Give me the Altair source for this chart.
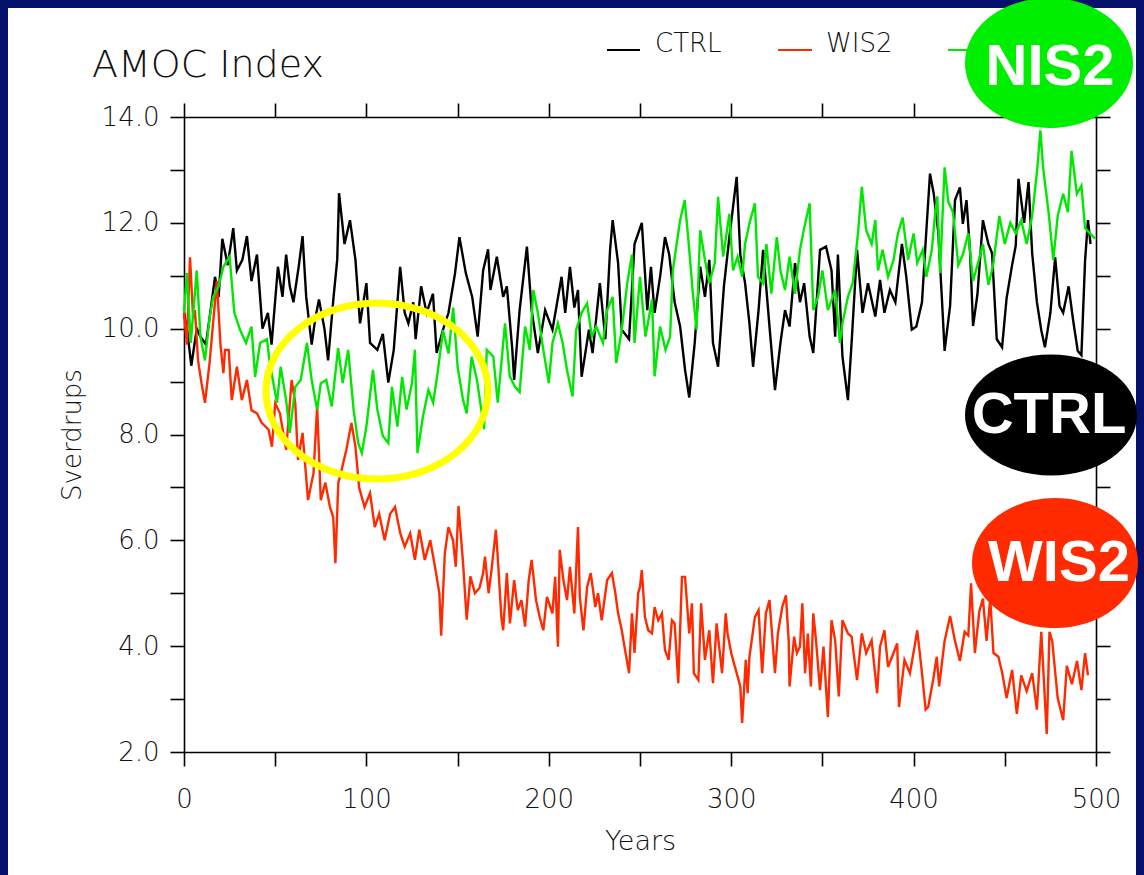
import altair as alt
import pandas as pd

# ---------------- data ----------------
series_names = ["CTRL", "WIS2", "NIS2"]
series_colors = ["#000000", "#ff2a00", "#00e800"]

ctrl_years = [0, 2, 4, 7, 9, 12, 14, 17, 19, 21, 24, 27, 29, 32, 34.5, 37, 40, 43, 46, 48, 51.5, 54, 56, 58, 60, 63, 65, 67, 70, 72, 74, 77, 79, 82, 84, 85, 88, 91, 94, 96.5, 100, 102, 106, 109, 112, 115, 118.5, 121, 123, 125.7, 127, 130, 133, 136.5, 138.5, 142, 145, 148.6, 151, 154.5, 158, 161, 164, 166.7, 168, 171.5, 175, 177, 180, 181, 184, 188, 190.6, 194, 198, 202, 207, 209, 211.6, 214, 216, 218, 222, 224, 228, 231, 233.6, 235, 238, 240, 244, 247, 251, 254, 256, 258, 261, 263.7, 266, 269, 272, 274.7, 277, 280, 283, 285.6, 288, 290, 292.8, 296, 299, 303, 305, 307.6, 310, 312, 315, 317.5, 321, 324, 327, 329.5, 332, 335, 337.7, 340, 343, 345, 348.7, 352, 355, 357, 358.5, 361, 364, 366, 369, 372, 375, 379, 381.6, 384, 387, 390, 393.6, 396, 399, 401.5, 404.6, 407, 409, 411, 413.5, 415.5, 417, 420, 422.7, 425.4, 427, 429, 431, 432.6, 435, 438, 441, 443, 445.6, 448.5, 451, 454, 456, 457.5, 460.6, 463, 465, 467.6, 470, 472, 475, 477.6, 480, 482, 485, 487.5, 490, 492, 494, 495.6, 497]
ctrl_vals = [10.3, 9.9, 9.3, 10.0, 9.85, 9.7, 10.2, 10.98, 10.6, 11.7, 11.2, 11.9, 11.1, 11.3, 11.75, 10.9, 11.4, 10.0, 10.3, 9.7, 11.17, 10.6, 11.4, 10.8, 10.5, 11.2, 11.75, 10.6, 9.7, 10.2, 10.55, 10.0, 9.4, 10.6, 11.3, 12.56, 11.6, 12.05, 11.3, 10.1, 10.86, 9.73, 9.6, 9.9, 8.98, 9.6, 11.17, 10.3, 10.1, 10.5, 9.8, 10.8, 10.3, 10.66, 9.54, 9.98, 10.3, 11.05, 11.73, 11.05, 10.6, 9.85, 11.1, 11.5, 10.73, 11.36, 10.6, 10.8, 9.6, 9.03, 10.35, 11.55, 10.35, 9.54, 10.35, 9.98, 10.98, 10.3, 11.17, 10.4, 10.73, 9.09, 9.98, 9.54, 10.86, 9.8, 11.49, 12.05, 11.24, 9.98, 9.8, 11.6, 12.0, 10.35, 11.17, 10.3, 10.98, 11.73, 11.4, 10.5, 10.04, 9.22, 8.7, 9.73, 11.17, 10.6, 11.3, 9.73, 9.28, 10.8, 11.73, 12.87, 11.4, 10.86, 10.1, 9.28, 10.35, 11.49, 10.04, 8.84, 9.73, 10.35, 10.04, 11.24, 10.5, 10.86, 9.85, 9.54, 11.49, 11.55, 11.1, 9.85, 11.4, 9.47, 8.65, 9.73, 11.49, 10.3, 10.86, 10.23, 10.92, 10.3, 10.73, 10.5, 11.6, 10.98, 9.98, 10.04, 10.5, 11.86, 12.93, 12.56, 11.83, 10.58, 9.58, 10.43, 12.43, 12.67, 11.98, 12.43, 11.43, 10.05, 10.65, 12.05, 11.6, 11.43, 9.8, 9.65, 10.58, 11.2, 11.57, 12.83, 12.0, 12.77, 11.43, 10.5, 9.97, 9.65, 10.3, 11.35, 10.43, 10.3, 10.8, 10.15, 9.58, 9.5, 11.28, 12.05, 11.6]

wis2_years = [0, 1.6, 3.3, 5, 6, 7.7, 9.6, 11.5, 14, 18, 20, 21.6, 22.5, 24.5, 26.2, 29, 31.7, 34.5, 37, 40, 42.6, 46.4, 48.2, 50, 52.6, 56, 59, 61, 62.5, 65, 68, 71, 73, 75, 77.5, 80, 81.8, 83, 84.6, 86, 89, 91.8, 94, 96, 99, 102, 104.6, 107, 110, 113, 115.7, 118.6, 121, 124, 126.6, 129, 132, 135, 137.6, 140, 141, 143, 145, 147.5, 149, 150.5, 153, 155, 157, 159.5, 162, 164, 165, 167, 168.6, 171, 172, 174, 175, 177, 178.7, 181, 183, 185, 187, 189, 190.6, 193, 195, 197, 199, 202, 203.5, 205, 206, 208, 210, 211.6, 214, 216, 217, 219, 221, 223, 225.5, 227, 229, 232, 234.6, 236.5, 238, 240, 241.8, 244, 245.6, 247, 249, 250, 251, 252.7, 254.5, 256.6, 258, 260, 262, 263.7, 265.7, 267.5, 269, 271, 273, 274.7, 277, 278.5, 279.5, 282, 283.5, 285.6, 288, 290, 292, 295, 297, 298, 300, 303, 305, 306, 308, 309, 310, 313, 315, 317, 319, 321, 324, 325.6, 328, 330, 331.5, 332, 334.5, 336, 337.7, 339, 340.5, 342, 343.7, 345, 346.5, 348.7, 350.6, 353, 355, 357, 359, 361, 364, 366, 369, 371.6, 374, 377, 380, 381.6, 384, 386, 389, 391, 392, 395, 398, 400.8, 402, 404.6, 406.6, 408, 410.7, 412.7, 414, 417, 420, 422.7, 425.4, 428, 430, 431.5, 433.6, 436, 438, 440, 442, 443.8, 446.5, 448.6, 451, 454, 456.6, 459, 462, 465, 467.6, 470, 473, 474.5, 476, 479, 482, 484, 486.8, 489.6, 492, 494, 495.6]
wis2_vals = [10.3, 9.7, 11.35, 10.2, 10.35, 9.4, 8.97, 8.6, 9.35, 10.9, 9.7, 9.16, 9.6, 9.6, 8.65, 9.28, 8.65, 9.03, 8.46, 8.4, 8.22, 8.09, 7.77, 8.59, 8.4, 7.71, 9.03, 8.6, 7.52, 8.03, 6.76, 7.27, 8.53, 6.76, 7.09, 6.63, 6.44, 5.57, 7.09, 7.27, 7.71, 8.22, 7.77, 7.0, 6.63, 6.89, 6.25, 6.5, 6.0, 6.5, 6.63, 6.13, 5.88, 6.13, 5.63, 6.2, 5.63, 6.0, 5.5, 5.0, 4.2, 5.76, 6.25, 6.0, 5.5, 6.65, 5.57, 4.5, 5.32, 5.0, 5.1, 5.38, 5.69, 5.0, 5.44, 6.2, 5.69, 4.55, 4.3, 5.38, 4.43, 5.25, 4.68, 4.87, 4.37, 5.25, 5.63, 4.87, 4.55, 4.3, 4.93, 4.62, 5.31, 3.99, 5.82, 5.25, 4.87, 5.5, 4.62, 6.25, 4.93, 4.3, 5.12, 5.38, 4.74, 5.0, 4.49, 5.25, 5.38, 5.0, 4.62, 4.3, 3.93, 3.49, 4.62, 3.87, 5.0, 5.12, 5.44, 4.55, 4.3, 4.24, 4.74, 4.49, 4.62, 3.93, 3.74, 4.49, 4.43, 3.3, 5.31, 5.31, 4.24, 4.81, 3.49, 3.36, 4.81, 3.74, 4.3, 3.3, 4.43, 3.49, 4.62, 4.24, 3.87, 3.49, 3.24, 2.55, 3.74, 3.11, 3.8, 4.55, 4.68, 3.49, 4.62, 4.87, 3.49, 4.24, 4.74, 4.96, 4.11, 3.24, 4.18, 3.87, 3.99, 4.81, 3.49, 4.24, 3.24, 4.62, 4.11, 3.17, 3.99, 2.66, 4.49, 4.11, 3.05, 4.49, 4.24, 4.18, 3.36, 4.24, 3.87, 4.11, 3.11, 3.99, 4.3, 3.61, 3.87, 4.05, 2.85, 3.74, 3.49, 4.05, 4.3, 3.49, 2.8, 2.85, 3.36, 3.8, 3.24, 4.1, 4.57, 4.1, 3.72, 4.27, 4.2, 5.19, 3.87, 4.65, 4.9, 4.1, 4.9, 3.87, 3.8, 3.49, 3.02, 3.55, 2.72, 3.45, 3.15, 3.49, 2.8, 4.27, 2.34, 4.27, 4.1, 3.02, 2.6, 3.63, 3.28, 3.72, 3.17, 3.87, 3.45]

nis2_years = [0, 1.6, 3.7, 7, 9, 11.5, 14, 16, 19, 21.6, 25, 27.6, 30.7, 34, 37, 39, 41.7, 45.5, 47, 51, 53, 56, 58, 61, 64, 67.4, 70, 73, 75, 78, 81, 84.5, 87, 90, 93, 95.5, 97.5, 100, 103.6, 106, 109, 112, 114, 117, 119.6, 122, 125, 126.6, 128, 131, 134, 136.6, 139, 142, 145, 147.6, 150, 153, 155, 157.7, 160.6, 163, 164.5, 166, 169.6, 172, 176, 178.6, 181.5, 184, 187, 189.6, 191.5, 194, 197, 200, 202, 205, 207.6, 210, 213, 215, 218, 221, 223.6, 226, 229.7, 232, 235, 237, 240, 243, 245.6, 247, 250, 253, 256.6, 258, 261, 264, 266.5, 268, 272, 274.5, 276.4, 279, 281, 283, 285.6, 288, 291, 292.8, 295.6, 299, 301, 303.5, 306, 307.6, 310, 313, 314.7, 317.5, 319.3, 322, 325, 327, 329.5, 332, 335, 337.7, 340, 343, 345, 347.6, 350, 353, 357, 359.6, 361, 364, 366.6, 369.5, 371.6, 374, 377, 379, 380.5, 383, 386, 389, 391.4, 394, 397, 400, 402, 405, 407, 410, 411.6, 413, 414.5, 417, 419, 421.6, 424.5, 427, 430, 432.6, 435, 438, 441, 443.6, 447, 450, 453, 456, 459, 462, 465, 467.7, 469.5, 471, 474, 476.6, 479, 482, 484.6, 486.6, 489.5, 492, 494, 496.6, 499.5]
nis2_vals = [10.3, 11.05, 9.73, 11.1, 9.85, 9.4, 10.2, 10.6, 10.8, 11.17, 11.36, 10.3, 9.98, 9.73, 10.04, 9.09, 9.73, 9.8, 9.35, 8.6, 9.28, 8.65, 8.03, 8.9, 9.03, 9.73, 9.03, 8.47, 8.97, 9.03, 8.53, 9.63, 8.97, 9.6, 8.46, 7.84, 7.65, 8.15, 9.22, 8.47, 7.97, 7.84, 8.9, 8.15, 9.09, 8.47, 8.97, 9.6, 7.65, 8.34, 8.84, 8.6, 9.15, 9.97, 9.53, 10.4, 9.28, 8.65, 8.4, 9.47, 9.03, 8.47, 8.1, 9.6, 9.47, 8.6, 10.1, 9.1, 8.9, 8.8, 10.04, 9.6, 10.73, 10.3, 9.6, 8.97, 9.73, 10.1, 9.73, 9.22, 8.72, 9.98, 10.3, 10.48, 9.85, 10.04, 9.73, 10.35, 10.6, 9.35, 9.98, 10.86, 11.4, 9.73, 10.98, 9.85, 10.55, 9.1, 10.04, 9.6, 9.85, 11.1, 12.05, 12.43, 11.73, 10.66, 9.98, 11.86, 11.3, 10.86, 11.24, 12.49, 11.36, 12.17, 11.1, 11.36, 10.98, 11.6, 11.99, 12.37, 10.98, 10.86, 11.6, 10.66, 11.73, 11.1, 10.73, 11.36, 10.66, 11.49, 11.9, 12.37, 10.35, 10.6, 11.1, 10.35, 10.73, 9.73, 10.1, 10.6, 10.86, 11.8, 12.68, 11.86, 11.6, 12.05, 11.1, 11.49, 10.98, 11.3, 11.8, 12.1, 11.3, 11.8, 11.24, 11.49, 10.98, 11.49, 12.1, 12.5, 11.05, 13.05, 12.4, 12.2, 11.2, 11.4, 11.8, 10.9, 11.2, 11.6, 10.83, 11.2, 12.13, 11.6, 12.0, 11.8, 12.05, 11.6, 12.13, 12.98, 13.75, 13.05, 12.2, 11.3, 12.13, 12.55, 12.2, 13.36, 12.55, 12.7, 11.9, 11.8, 11.7]

x_ticks = list(range(0, 501, 50))
y_ticks = list(range(2, 15, 1))

# ---------------- build tables ----------------
rows = []
for name, yrs, vals in [("CTRL", ctrl_years, ctrl_vals), ("WIS2", wis2_years, wis2_vals), ("NIS2", nis2_years, nis2_vals)]:
    for i, (a, b) in enumerate(zip(yrs, vals)):
        rows.append({"year": a, "value": b, "series": name, "idx": i})
df = pd.DataFrame(rows)

FONT = "DejaVu Sans"
BOLD_FONT = "Liberation Sans"
X0, Y0 = 184, 117          # plot origin in page pixels
PX_PER_YEAR = 912 / 500
PX_PER_SV = 635 / 12


def to_year(px):
    return (px - X0) / PX_PER_YEAR


def to_sv(py):
    return 14 - (py - Y0) / PX_PER_SV


xscale = alt.Scale(domain=[0, 500], nice=False, zero=False)
yscale = alt.Scale(domain=[2, 14], nice=False, zero=False)

common_axis = dict(tickSize=14, tickWidth=1.6, tickColor="black", domainColor="black",
                   domainWidth=1.6, grid=False, labelFont=FONT, titleFont=FONT,
                   labelColor="#111111", titleColor="#111111", titleFontWeight=200,
                   labelFontWeight=200)

bottom_axis = alt.Axis(values=x_ticks, labelExpr="datum.value % 100 == 0 ? datum.label : ''",
                       labelFontSize=26, labelPadding=20, labelFlush=False, labelOverlap=False,
                       titleFontSize=27, titlePadding=16, **common_axis)
left_axis = alt.Axis(values=y_ticks, labelExpr="datum.value % 2 == 0 ? format(datum.value, '.1f') : ''",
                     labelFontSize=26, labelPadding=11, labelOverlap=False,
                     titleFontSize=26, titlePadding=16, **common_axis)
top_axis = alt.Axis(orient="top", values=x_ticks, labels=False, title=None, **common_axis)
right_axis = alt.Axis(orient="right", values=y_ticks, labels=False, title=None, **common_axis)


def X(field):
    return alt.X(field, scale=xscale, axis=None)


def Y(field):
    return alt.Y(field, scale=yscale, axis=None)


one = pd.DataFrame({"k": [0]})

# navy slide border (left, top, right)
border = alt.Chart(one).mark_rect(fill=None, filled=False, stroke="#04106b", strokeWidth=16).encode(
    x=alt.value(0 - X0), x2=alt.value(1144 - X0), y=alt.value(0 - Y0), y2=alt.value(920 - Y0))

lines = alt.Chart(df).mark_line(strokeWidth=2.4, interpolate="linear").encode(
    x=alt.X("year:Q", scale=xscale, axis=bottom_axis, title="Years"),
    y=alt.Y("value:Q", scale=yscale, axis=left_axis, title="Sverdrups"),
    color=alt.Color("series:N", scale=alt.Scale(domain=series_names, range=series_colors), legend=None),
    order="idx:Q",
)

frame = alt.Chart(df).mark_point(opacity=0, size=0).encode(
    x=alt.X("year:Q", scale=xscale, axis=top_axis),
    y=alt.Y("value:Q", scale=yscale, axis=right_axis),
)

# manual legend (line segment + label)
leg = pd.DataFrame({
    "series": series_names,
    "x1": [to_year(607), to_year(778), to_year(948)],
    "x2": [to_year(640), to_year(812), to_year(981)],
    "xt": [to_year(655), to_year(826), to_year(996)],
})
leg["y"] = to_sv(50)
leg["yt"] = to_sv(52)
leg_lines = alt.Chart(leg).mark_rule(strokeWidth=2).encode(
    x=X("x1:Q"), x2="x2:Q", y=Y("y:Q"),
    color=alt.Color("series:N", scale=alt.Scale(domain=series_names, range=series_colors), legend=None))
leg_text = alt.Chart(leg).mark_text(align="left", baseline="alphabetic", font=FONT, fontSize=26,
                                    fontWeight=200, color="#111111").encode(
    x=X("xt:Q"), y=Y("yt:Q"), text="series:N")

title = alt.Chart(one).mark_text(text="AMOC Index", align="left", baseline="alphabetic", font=FONT,
                                 fontSize=38, fontWeight=200, color="#111111").encode(
    x=alt.value(92 - X0), y=alt.value(77 - Y0))


def ellipse_path(ry):
    return f"M-1,0A1,{ry} 0 1,0 1,0A1,{ry} 0 1,0 -1,0Z"


def ellipse(cx, cy, w, h, fill=None, stroke=None, sw=0):
    d = pd.DataFrame({"x": [to_year(cx)], "y": [to_sv(cy)]})
    kw = dict(shape=ellipse_path(round(h / w, 3)), size=w * w, opacity=1)
    if fill:
        kw.update(filled=True, fill=fill, fillOpacity=1, strokeWidth=0)
    else:
        kw.update(filled=False, stroke=stroke, strokeWidth=sw, strokeOpacity=1)
    return alt.Chart(d).mark_point(**kw).encode(x=X("x:Q"), y=Y("y:Q"))


def label(cx, cy, txt, size=60):
    d = pd.DataFrame({"x": [to_year(cx)], "y": [to_sv(cy)], "t": [txt]})
    return alt.Chart(d).mark_text(font=BOLD_FONT, fontWeight="bold", fontSize=size, color="white",
                                  align="center", baseline="middle").encode(
        x=X("x:Q"), y=Y("y:Q"), text="t:N")


yellow = ellipse(377, 391, 222, 176, stroke="#ffff00", sw=7)
e_nis = ellipse(1049, 63, 168, 130, fill="#00ee00")
e_ctrl = ellipse(1051, 415, 172, 121, fill="#000000")
e_wis = ellipse(1055, 563, 166, 130, fill="#ff2a00")

chart = alt.layer(
    frame, lines, leg_lines, leg_text, title, yellow, border,
    e_nis, label(1050, 68, "NIS2", 58),
    e_ctrl, label(1049, 416, "CTRL", 58),
    e_wis, label(1059, 564, "WIS2", 58),
).resolve_axis(x="independent", y="independent").properties(
    width=912, height=635,
    autosize=alt.AutoSizeParams(type="none"),
    padding={"left": X0, "top": Y0, "right": 1144 - X0 - 912, "bottom": 875 - Y0 - 635},
).configure(background="white").configure_view(stroke=None, fill="white")

chart.save("out.html", embed_options={"renderer": "svg", "actions": False})
